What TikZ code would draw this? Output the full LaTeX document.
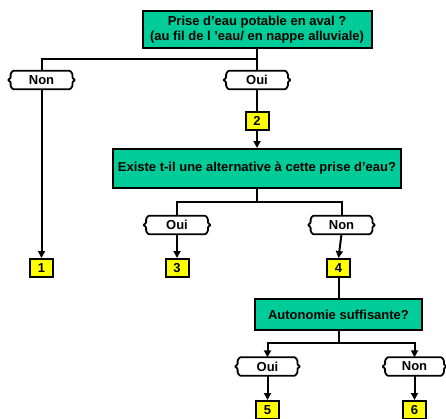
\documentclass[tikz,border=0pt]{standalone}
\usepackage{fontspec}
\setmainfont{Liberation Sans}
\usetikzlibrary{arrows.meta}
\definecolor{qgreen}{RGB}{0,204,153}
\definecolor{nyellow}{RGB}{255,255,0}
\tikzset{
  question/.style={draw=black, line width=2pt, fill=qgreen, font=\bfseries\fontsize{13}{15.5}\selectfont, align=center, inner sep=0pt},
  answer/.style={rectangle, font=\bfseries\fontsize{13}{15}\selectfont, inner sep=0pt, minimum height=18pt},
  ansline/.style={draw=black, line width=1.8pt, rounded corners=0.8pt, line join=round},
  numbox/.style={draw=black, line width=2pt, fill=nyellow, font=\bfseries\fontsize{13}{15}\selectfont, minimum width=23pt, minimum height=18pt, inner sep=0pt},
  link/.style={line width=2pt, draw=black},
  arr/.style={link, -{Triangle[length=7pt,width=7pt]}}
}
\newcommand\ansoutline[1]{%
  \draw[ansline] ([xshift=5pt]#1.north west) -- ([xshift=-5pt]#1.north east)
    -- ([xshift=-2.8pt,yshift=-3pt]#1.north east) -- ([xshift=-2.8pt,yshift=2pt]#1.east)
    -- (#1.east) -- ([xshift=-2.8pt,yshift=-2pt]#1.east)
    -- ([xshift=-2.8pt,yshift=3pt]#1.south east) -- ([xshift=-5pt]#1.south east)
    -- ([xshift=5pt]#1.south west) -- ([xshift=2.8pt,yshift=3pt]#1.south west)
    -- ([xshift=2.8pt,yshift=-2pt]#1.west) -- (#1.west)
    -- ([xshift=2.8pt,yshift=2pt]#1.west) -- ([xshift=2.8pt,yshift=-3pt]#1.north west) -- cycle;}
\begin{document}
\begin{tikzpicture}[x=1pt,y=-1pt]
\useasboundingbox (0,0) rectangle (446,418);
% questions
\node[question, minimum width=229pt, minimum height=37pt] (q1) at (257,29.5) {Prise d’eau potable en aval ?\\(au fil de l ’eau/ en nappe alluviale)};
\node[question, minimum width=288pt, minimum height=39pt] (q2) at (257,168.5) {Existe t-il une alternative à cette prise d’eau?};
\node[question, minimum width=167pt, minimum height=31pt] (q3) at (338.5,314.5) {Autonomie suffisante?};
% answers
\node[answer, minimum width=67pt] (n1) at (41.5,80) {Non};
\node[answer, minimum width=67pt] (o1) at (257,80) {Oui};
\node[answer, minimum width=67pt] (o2) at (177,225) {Oui};
\node[answer, minimum width=67pt] (n2) at (341.5,225) {Non};
\node[answer, minimum width=65pt] (o3) at (267.5,366.5) {Oui};
\node[answer, minimum width=64pt] (n3) at (414.5,366.5) {Non};
\foreach \a in {n1,o1,o2,n2,o3,n3}{\ansoutline{\a}}
% numbers
\node[numbox] (b2) at (257,120.5) {2};
\node[numbox] (b1) at (41.5,268) {1};
\node[numbox] (b3) at (177,268) {3};
\node[numbox] (b4) at (338.5,268) {4};
\node[numbox] (b5) at (267.5,410) {5};
\node[numbox] (b6) at (414.5,410) {6};
% connectors
\coordinate (j1) at (257,59);
\coordinate (j2) at (257,202);
\coordinate (j3) at (338.5,343);
\draw[link] (q1.south) -- (j1) -| (n1.north);
\draw[link] (j1) -- (o1.north);
\draw[link] (o1.south) -- (b2.north);
\draw[arr] (b2.south) -- (q2.north);
\draw[arr] (n1.south) -- (b1.north);
\draw[link] (q2.south) -- (j2) -| (o2.north);
\draw[link] (j2) -| (n2.north);
\draw[arr] (o2.south) -- (b3.north);
\draw[arr] (n2.south) -- (b4.north);
\draw[link] (b4.south) -- (q3.north);
\draw[arr] (q3.south) -- (j3) -| (o3.north);
\draw[arr] (j3) -| (n3.north);
\draw[arr] (o3.south) -- (b5.north);
\draw[arr] (n3.south) -- (b6.north);
\end{tikzpicture}
\end{document}
